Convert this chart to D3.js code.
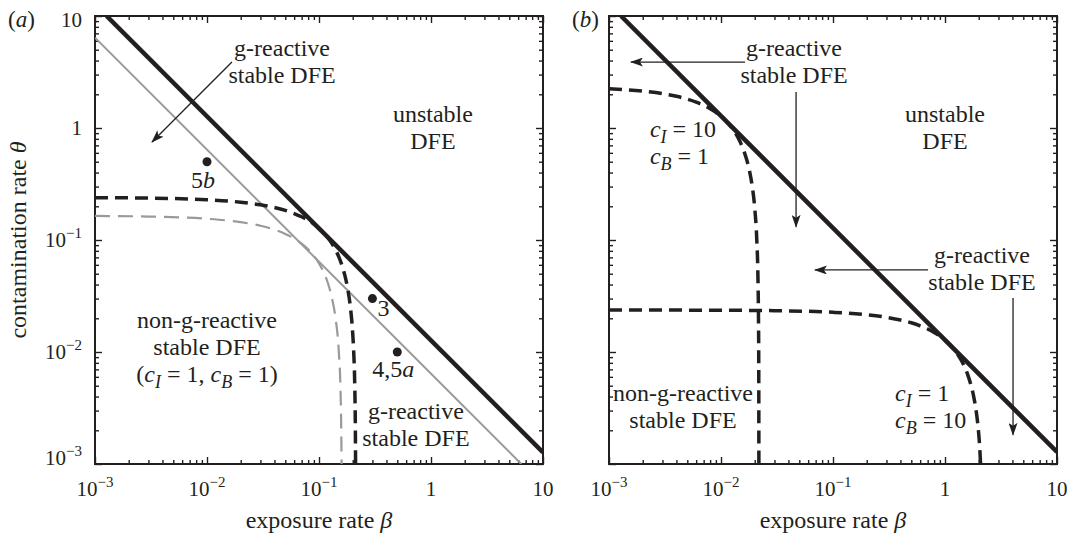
<!DOCTYPE html>
<html>
<head>
<meta charset="utf-8">
<script src="https://cdn.jsdelivr.net/npm/d3@7"></script>
<style>
  body { margin: 0; background: #fff; }
  svg { display: block; font-family: "Liberation Serif", "Times New Roman", serif; }
</style>
</head>
<body>
<svg id="chart" width="1075" height="535"></svg>
<script>
// axes
const betaDomain = [1e-3, 10];
const thetaDomain = [1e-3, 10];
const decades = [1e-3, 1e-2, 1e-1, 1, 10];
const decadeLabels = [['10', '−3'], ['10', '−2'], ['10', '−1'], ['1', ''], ['10', '']];

// panel (a): threshold lines and stability boundaries (beta, theta)
const thresholdA = [[0.00127, 10], [10, 0.00127]];
const thresholdGreyA = [[0.001, 6.4], [6.4, 0.001]];
const boundaryA = [
  [0.001, 0.2389], [0.003, 0.2366], [0.005, 0.2344], [0.01, 0.2287], [0.02, 0.2175],
  [0.03, 0.2062], [0.04, 0.1949], [0.05, 0.1837], [0.06, 0.1724], [0.07, 0.1611],
  [0.08, 0.1499], [0.09, 0.1386], [0.1, 0.1273], [0.11, 0.1161], [0.12, 0.1048],
  [0.13, 0.0935], [0.14, 0.0823], [0.15, 0.071], [0.16, 0.0597], [0.17, 0.0485],
  [0.18, 0.0372], [0.19, 0.0259], [0.1997, 0.015], [0.2041, 0.01], [0.2086, 0.005],
  [0.2112, 0.002], [0.2121, 0.001], [0.2123, 0.0008]
];
const boundaryGreyA = [
  [0.001, 0.164], [0.003, 0.1619], [0.01, 0.1547], [0.02, 0.1444], [0.03, 0.1341],
  [0.04, 0.1238], [0.05, 0.1134], [0.06, 0.1031], [0.07, 0.0928], [0.08, 0.0825],
  [0.09, 0.0722], [0.1, 0.0619], [0.11, 0.0516], [0.12, 0.0413], [0.13, 0.0309],
  [0.14, 0.0206], [0.1503, 0.01], [0.1552, 0.005], [0.158, 0.002], [0.159, 0.001],
  [0.1592, 0.0008]
];
const pointsA = [
  { beta: 0.01, theta: 0.5, label: [['5'], ['b', 'i']], dx: -4, dy: 26, anchor: 'middle' },
  { beta: 0.3, theta: 0.03, label: [['3']], dx: 5, dy: 17, anchor: 'start' },
  { beta: 0.5, theta: 0.01, label: [['4,5'], ['a', 'i']], dx: -4, dy: 25, anchor: 'middle' }
];

// panel (b)
const thresholdB = [[0.00128, 10], [10, 0.00128]];
const boundaryB1 = [
  [0.001, 2.242], [0.002, 2.134], [0.003, 2.027], [0.004, 1.919], [0.005, 1.811],
  [0.006, 1.703], [0.007, 1.595], [0.008, 1.488], [0.009, 1.38], [0.01, 1.272],
  [0.011, 1.164], [0.012, 1.056], [0.013, 0.949], [0.014, 0.841], [0.015, 0.733],
  [0.016, 0.625], [0.017, 0.517], [0.018, 0.41], [0.019, 0.302], [0.02, 0.194],
  [0.02087, 0.1], [0.02134, 0.05], [0.02161, 0.02], [0.02171, 0.01], [0.02175, 0.005],
  [0.02179, 0.001], [0.0218, 0.0008]
];
const boundaryB2 = [
  [0.001, 0.02369], [0.003, 0.02367], [0.01, 0.02359], [0.03, 0.02337], [0.1, 0.02261],
  [0.2, 0.02152], [0.3, 0.02042], [0.4, 0.01933], [0.5, 0.01824], [0.6, 0.01715],
  [0.7, 0.01605], [0.8, 0.01496], [0.9, 0.01387], [1.0, 0.01278], [1.1, 0.01169],
  [1.2, 0.01059], [1.3, 0.0095], [1.4, 0.0084], [1.5, 0.00732], [1.6, 0.00622],
  [1.7, 0.00513], [1.8, 0.00404], [1.9, 0.00295], [2.0, 0.00186], [2.033, 0.0015],
  [2.078, 0.001], [2.097, 0.0008]
];

// annotations (data coordinates)
const textsA = [
  { beta: 0.0468, theta: 4.39, anchor: 'middle', lines: [[['g-reactive']], [['stable DFE']]] },
  { beta: 1.04, theta: 1.13, anchor: 'middle', lines: [[['unstable']], [['DFE']]] },
  { beta: 0.01, theta: 0.0164, anchor: 'middle', lines: [[['non-g-reactive']], [['stable DFE']],
      [['('], ['c', 'i'], ['I', 'is'], [' = 1, '], ['c', 'i'], ['B', 'is'], [' = 1)']]] },
  { beta: 0.734, theta: 0.00252, anchor: 'middle', lines: [[['g-reactive']], [['stable DFE']]] }
];
const arrowsA = [
  [[0.0167, 3.88], [0.00323, 0.75]]
];
const textsB = [
  { beta: 0.0449, theta: 4.39, anchor: 'middle', lines: [[['g-reactive']], [['stable DFE']]] },
  { beta: 1.0, theta: 1.13, anchor: 'middle', lines: [[['unstable']], [['DFE']]] },
  { beta: 0.00232, theta: 0.831, anchor: 'start', lines: [[['c', 'i'], ['I', 'is'], [' = 10']], [['c', 'i'], ['B', 'is'], [' = 1']]] },
  { beta: 2.14, theta: 0.0623, anchor: 'middle', lines: [[['g-reactive']], [['stable DFE']]] },
  { beta: 0.358, theta: 0.00365, anchor: 'start', lines: [[['c', 'i'], ['I', 'is'], [' = 1']], [['c', 'i'], ['B', 'is'], [' = 10']]] },
  { beta: 0.00458, theta: 0.00365, anchor: 'middle', lines: [[['non-g-reactive']], [['stable DFE']]] }
];
const arrowsB = [
  [[0.0164, 3.88], [0.00157, 3.88]],
  [[0.0468, 2.1], [0.0468, 0.131]],
  [[0.705, 0.054], [0.069, 0.054]],
  [[4.05, 0.0303], [4.05, 0.00182]]
];

const ink = '#231f20';
const annoSize = '24px';
const svg = d3.select('#chart');

svg.append('defs').append('marker')
  .attr('id', 'head')
  .attr('markerUnits', 'userSpaceOnUse')
  .attr('markerWidth', 13).attr('markerHeight', 9)
  .attr('refX', 12).attr('refY', 4.5)
  .attr('orient', 'auto')
  .append('path')
  .attr('d', 'M0,0 L13,4.5 L0,9 L3,4.5 Z')
  .style('fill', ink);

function richText(sel, segs) {
  let shifted = false;
  segs.forEach(([t, f]) => {
    const ts = sel.append('tspan').text(t);
    if (f && f.includes('i')) ts.style('font-style', 'italic');
    if (f && f.includes('s')) {
      ts.attr('dy', 6).style('font-size', '18px');
      shifted = true;
    } else if (shifted) {
      ts.attr('dy', -6);
      shifted = false;
    }
  });
}

function drawPanel(opts) {
  const { left, top, size, tag, tagX, showY, lines, texts, arrows, points } = opts;
  const x = d3.scaleLog().domain(betaDomain).range([0, size]);
  const y = d3.scaleLog().domain(thetaDomain).range([size, 0]);
  const g = svg.append('g').attr('transform', `translate(${left},${top})`);

  const clipId = 'clip-' + tag;
  g.append('clipPath').attr('id', clipId)
    .append('rect').attr('width', size).attr('height', size);

  const minor = [];
  decades.slice(0, -1).forEach((d) => { for (let k = 2; k <= 9; k++) minor.push(k * d); });

  const axes = [
    [d3.axisBottom(x), `translate(0,${size})`],
    [d3.axisTop(x), 'translate(0,0)'],
    [d3.axisLeft(y), 'translate(0,0)'],
    [d3.axisRight(y), `translate(${size},0)`]
  ];
  axes.forEach(([ax, tr]) => {
    [[minor, 4], [decades, 7]].forEach(([vals, len]) => {
      const a = g.append('g').attr('transform', tr)
        .call(ax.tickValues(vals).tickSizeInner(-len).tickSizeOuter(0).tickFormat(''));
      a.select('.domain').remove();
      a.selectAll('line').style('stroke', ink).style('stroke-width', 1.4);
    });
  });

  g.append('rect').attr('width', size).attr('height', size)
    .style('fill', 'none').style('stroke', ink).style('stroke-width', 2);

  // x tick labels
  decades.forEach((d, i) => {
    const t = g.append('text')
      .attr('x', x(d)).attr('y', size + 32)
      .attr('text-anchor', 'middle')
      .style('font-size', '21px').style('fill', ink);
    t.append('tspan').text(decadeLabels[i][0]);
    if (decadeLabels[i][1]) t.append('tspan').attr('dy', -9).style('font-size', '15px').text(decadeLabels[i][1]);
  });
  if (showY) {
    decades.forEach((d, i) => {
      const nudge = i === 0 ? -6 : i === decades.length - 1 ? 4 : 0;
      const t = g.append('text')
        .attr('x', -13).attr('y', y(d) + 7 + nudge)
        .attr('text-anchor', 'end')
        .style('font-size', '21px').style('fill', ink);
      t.append('tspan').text(decadeLabels[i][0]);
      if (decadeLabels[i][1]) t.append('tspan').attr('dy', -9).style('font-size', '15px').text(decadeLabels[i][1]);
    });
    const yl = g.append('text')
      .attr('transform', `translate(${-69},${size / 2}) rotate(-90)`)
      .attr('text-anchor', 'middle')
      .style('font-size', '24px').style('fill', ink);
    richText(yl, [['contamination rate '], ['θ', 'i']]);
  }
  const xl = g.append('text')
    .attr('x', size / 2).attr('y', size + 64)
    .attr('text-anchor', 'middle')
    .style('font-size', '24px').style('fill', ink);
  richText(xl, [['exposure rate '], ['β', 'i']]);

  const pl = svg.append('text')
    .attr('x', tagX).attr('y', top + 11)
    .style('font-size', '23px').style('fill', ink);
  richText(pl, [['('], [tag, 'i'], [')']]);

  const plot = g.append('g').attr('clip-path', `url(#${clipId})`);
  const line = d3.line().x((d) => x(d[0])).y((d) => y(d[1])).curve(d3.curveMonotoneX);
  lines.forEach((s) => {
    plot.append('path').datum(s.data)
      .attr('d', line)
      .style('fill', 'none')
      .style('stroke', s.color)
      .style('stroke-width', s.width)
      .style('stroke-dasharray', s.dash || null);
  });

  (points || []).forEach((p) => {
    g.append('circle').attr('cx', x(p.beta)).attr('cy', y(p.theta)).attr('r', 4.5).style('fill', ink);
    const t = g.append('text')
      .attr('x', x(p.beta) + p.dx).attr('y', y(p.theta) + p.dy)
      .attr('text-anchor', p.anchor)
      .style('font-size', annoSize).style('fill', ink);
    richText(t, p.label);
  });

  arrows.forEach(([a, b]) => {
    g.append('line')
      .attr('x1', x(a[0])).attr('y1', y(a[1]))
      .attr('x2', x(b[0])).attr('y2', y(b[1]))
      .style('stroke', ink).style('stroke-width', 1.3)
      .attr('marker-end', 'url(#head)');
  });

  texts.forEach((tx) => {
    tx.lines.forEach((segs, i) => {
      const t = g.append('text')
        .attr('x', x(tx.beta)).attr('y', y(tx.theta) + i * 27)
        .attr('text-anchor', tx.anchor)
        .style('font-size', annoSize).style('fill', ink);
      richText(t, segs);
    });
  });
}

drawPanel({
  left: 95, top: 16, size: 448, tag: 'a', tagX: 8, showY: true,
  lines: [
    { data: thresholdGreyA, color: '#9a9a9a', width: 2 },
    { data: boundaryGreyA, color: '#9a9a9a', width: 2.2, dash: '15,8' },
    { data: boundaryA, color: ink, width: 3.5, dash: '13,7' },
    { data: thresholdA, color: ink, width: 4.5 }
  ],
  texts: textsA, arrows: arrowsA, points: pointsA
});

drawPanel({
  left: 609, top: 16, size: 448, tag: 'b', tagX: 572, showY: false,
  lines: [
    { data: boundaryB1, color: ink, width: 3.5, dash: '13,7' },
    { data: boundaryB2, color: ink, width: 3.5, dash: '13,7' },
    { data: thresholdB, color: ink, width: 4.5 }
  ],
  texts: textsB, arrows: arrowsB
});
</script>
</body>
</html>
